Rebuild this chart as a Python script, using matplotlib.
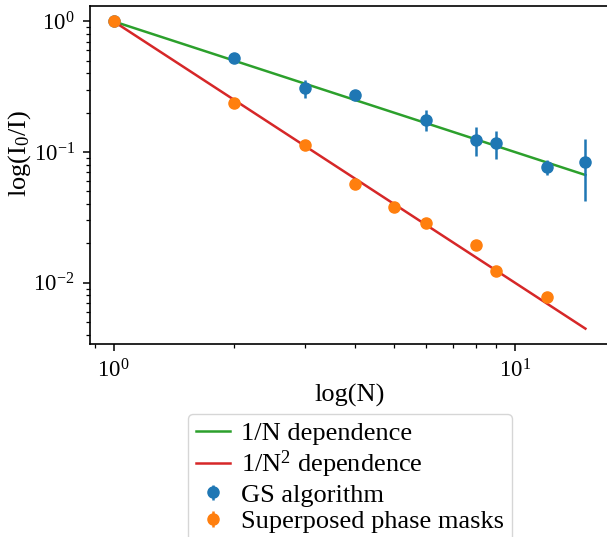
import numpy as np
import matplotlib
matplotlib.use("Agg")
import matplotlib.pyplot as plt
from matplotlib.container import ErrorbarContainer
from matplotlib.legend_handler import HandlerErrorbar

plt.rcParams['font.family'] = ['Liberation Serif', 'DejaVu Serif']
plt.rcParams['mathtext.fontset'] = 'custom'
plt.rcParams['mathtext.rm'] = 'Liberation Serif'
plt.rcParams['mathtext.it'] = 'Liberation Serif:italic'
plt.rcParams['axes.unicode_minus'] = False
plt.rcParams['font.size'] = 19

# data
n_gs = [1, 2, 3, 4, 6, 8, 9, 12, 15]
ratio_gs = [1.0, 0.526, 0.308, 0.274, 0.177, 0.124, 0.117, 0.077, 0.084]
err_gs = [0.0, 0.01, 0.05, 0.01, 0.033, 0.031, 0.029, 0.01, 0.042]

n_sp = [1, 2, 3, 4, 5, 6, 8, 9, 12]
ratio_sp = [1.0, 0.237, 0.113, 0.0566, 0.0378, 0.0285, 0.0195, 0.0123, 0.0077]
err_sp = [0.0, 0.004, 0.002, 0.001, 0.001, 0.0008, 0.0005, 0.0008, 0.0003]

n_fit = np.arange(1, 16)

# 1. Figure

fig = plt.figure(figsize=(6.07, 5.37), dpi=100)
ax = fig.add_axes([90 / 607, 193 / 537, 519 / 607, 338 / 537])

l1, = ax.plot(n_fit, 1.0 / n_fit, color='#2ca02c', lw=1.8, label='1/N dependence')
l2, = ax.plot(n_fit, 1.0 / n_fit ** 2, color='#d62728', lw=1.8, label='1/N$^2$ dependence')
e1 = ax.errorbar(n_gs, ratio_gs, yerr=err_gs, fmt='o', color='#1f77b4', ms=8,
                 elinewidth=1.8, label='GS algorithm')
e2 = ax.errorbar(n_sp, ratio_sp, yerr=err_sp, fmt='o', color='#ff7f0e', ms=8,
                 elinewidth=1.8, label='Superposed phase masks')

ax.set_xscale('log')
ax.set_yscale('log')

for s in ax.spines.values():
    s.set_linewidth(1.2)
ax.tick_params(which='major', length=5, width=1.1, pad=6, labelsize=16.5)
ax.tick_params(which='minor', length=3, width=0.9)

# 2. Labels

ax.set_xlabel('log(N)', labelpad=1)
ax.set_ylabel('log(I$_0$/I)')
ax.yaxis.set_label_coords(-0.11, 0.565)

# 3. Legend below the plot

fig.legend(handles=[l1, l2, e1, e2], loc='upper center',
           bbox_to_anchor=(350 / 607, 1 - 414 / 537), borderaxespad=0,
           borderpad=0.3, handlelength=1.3, handletextpad=0.4, labelspacing=0.12,
           handler_map={ErrorbarContainer: HandlerErrorbar(yerr_size=0.3)})

plt.savefig("out.png", dpi=100)
